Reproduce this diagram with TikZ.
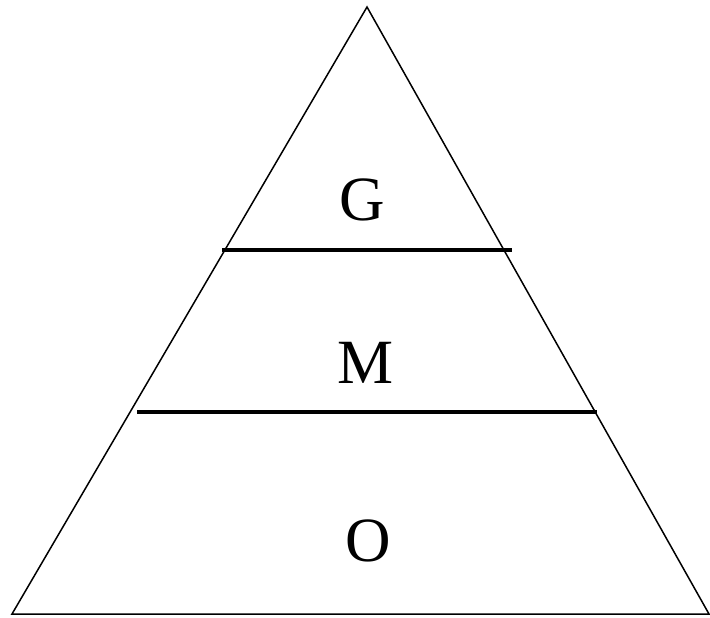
\documentclass[tikz,border=0pt]{standalone}
\usepackage{fontspec}
\setmainfont{Liberation Serif}
\usepackage{tikz}
\usetikzlibrary{calc}

\begin{document}
\begin{tikzpicture}[x=1pt,y=-1pt]
	\useasboundingbox (0,0) rectangle (710,618);
	\coordinate (top) at (367,7);
	\coordinate (bl) at (12,614);
	\coordinate (br) at (709,614);
	\draw[line width=1.5pt, line join=miter] (top) -- (bl) -- (br) -- cycle;
	% bars between the levels
	\coordinate (g1) at (222,250); \coordinate (g2) at (512,250);
	\coordinate (m1) at (137,412); \coordinate (m2) at (597,412);
	\draw[line width=4.5pt] (g1) -- (g2);
	\draw[line width=4.5pt] (m1) -- (m2);
	\foreach \n/\t/\x/\y in {lg/G/362/200, lm/M/366/363, lo/O/368/541} {
		\node[font=\fontsize{63}{70}\selectfont] (\n) at (\x,\y) {\t};
	}
\end{tikzpicture}
\end{document}
